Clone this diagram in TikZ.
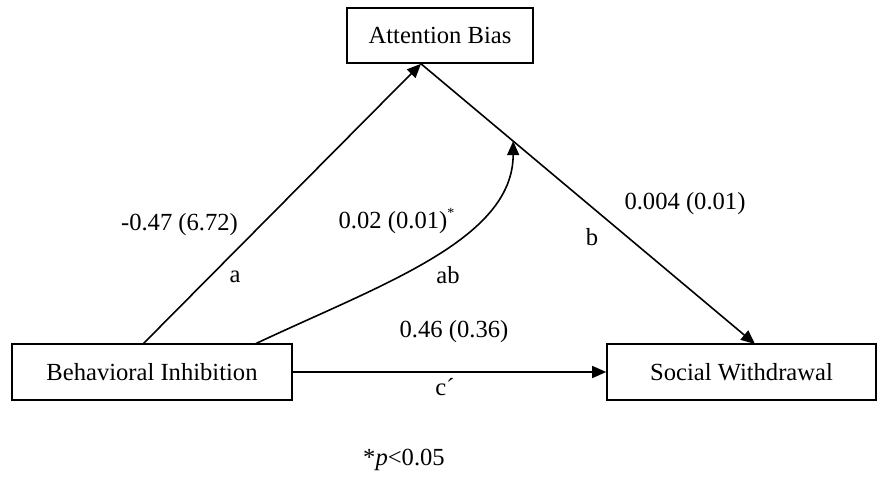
\documentclass[tikz,border=0pt]{standalone}
\usepackage{fontspec}
\setmainfont{Liberation Serif}
\usetikzlibrary{arrows.meta,calc}
\begin{document}
\begin{tikzpicture}[x=1pt,y=-1pt,
  box/.style={draw,line width=1.6pt,inner sep=0pt,font=\fontsize{24.6}{29}\selectfont},
  lbl/.style={inner sep=0pt,anchor=base,font=\fontsize{24.6}{29}\selectfont},
  conn/.style={line width=1.6pt,-{Triangle[length=14pt,width=12pt]}}]
\useasboundingbox (0,0) rectangle (878,477);
\node[box,minimum width=186pt,minimum height=55pt] (ab) at (440,35.5) {Attention Bias};
\node[box,minimum width=280pt,minimum height=56pt] (bi) at (152,372) {Behavioral Inhibition};
\node[box,minimum width=269pt,minimum height=56pt] (sw) at (741.5,372) {Social Withdrawal};
\coordinate (abB) at (421,63.8);
\coordinate (biA) at (143,344);
\coordinate (biAB) at (255,344);
\coordinate (swB) at (755,344);
\coordinate (mid) at ($(abB)!0.276!(swB)$);
\draw[conn] (biA) -- (abB);
\draw[conn] (abB) -- (swB);
\draw[conn] (bi.east) -- (sw.west);
\draw[conn] (biAB) .. controls (380,285) and (513,240) .. (mid);
\node[lbl] (la) at (179.5,230) {-0.47 (6.72)};
\node[lbl] (a) at (235,282) {a};
\node[lbl] (lab) at (393,228) {0.02 (0.01)\rlap{\raisebox{11pt}{\fontsize{14}{16}\selectfont *}}};
\node[lbl] (abl) at (448,283) {ab};
\node[lbl] (lb) at (685,209) {0.004 (0.01)};
\node[lbl] (b) at (592,245) {b};
\node[lbl] (lc) at (454,337) {0.46 (0.36)};
\node[lbl] (c) at (445,395) {c\textasciiacute};
\node[lbl] (p) at (404,465) {*\textit{p}<0.05};
\end{tikzpicture}
\end{document}
